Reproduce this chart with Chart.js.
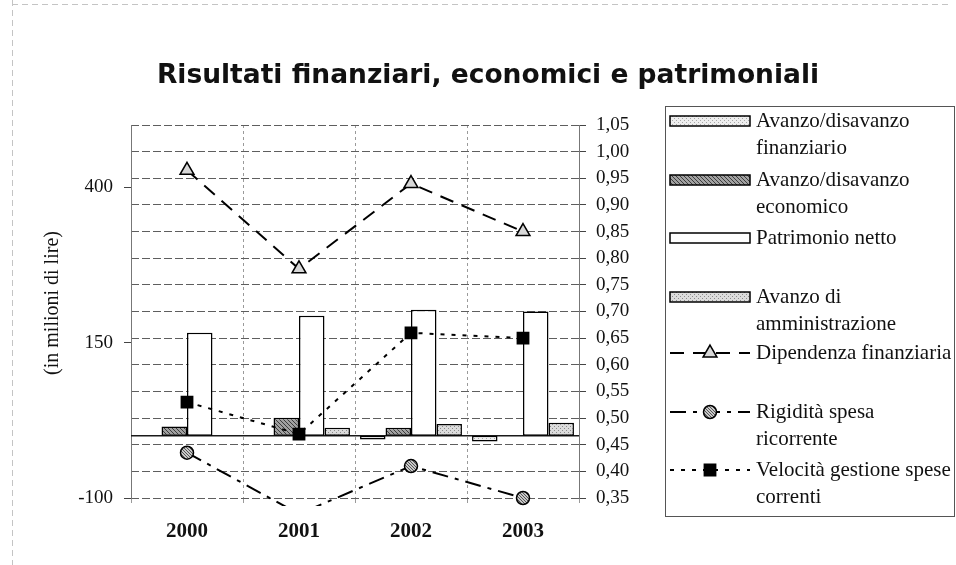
<!DOCTYPE html>
<html><head><meta charset="utf-8">
<script src="https://cdn.jsdelivr.net/npm/chart.js@4.4.1/dist/chart.umd.min.js"></script>
<style>html,body{margin:0;padding:0;background:#fff;}#wrap{position:relative;width:956px;height:565px;}</style>
</head><body><div id="wrap"><canvas id="c" width="956" height="565"></canvas></div>
<script>
// ---- data ----
const categories = ['2000', '2001', '2002', '2003'];
const avanzoFinanziario = [0, 0, -6, -9];
const avanzoEconomico = [15, 29, 13, 0];
const patrimonioNetto = [166, 193, 203, 200];
const avanzoAmministrazione = [0, 13, 19, 21];
const dipendenzaFinanziaria = [0.965, 0.78, 0.94, 0.85];
const rigiditaSpesa = [0.435, 0.32, 0.41, 0.35];
const velocitaGestione = [0.53, 0.47, 0.66, 0.65];
const leftTicks = [-100, 150, 400];
const rightTicks = [0.35, 0.40, 0.45, 0.50, 0.55, 0.60, 0.65, 0.70, 0.75, 0.80, 0.85, 0.90, 0.95, 1.00, 1.05];
const seriesNames = ['Avanzo/disavanzo\nfinanziario', 'Avanzo/disavanzo\neconomico', 'Patrimonio netto',
  'Avanzo di\namministrazione', 'Dipendenza finanziaria', 'Rigidità spesa\nricorrente', 'Velocità gestione spese\ncorrenti'];
const chartTitle = 'Risultati finanziari, economici e patrimoniali';
const yTitle = '(in milioni di lire)';

// ---- patterns ----
function makePattern(w, h, draw) {
  const c = document.createElement('canvas'); c.width = w; c.height = h;
  const g = c.getContext('2d'); draw(g); return g.createPattern(c, 'repeat');
}
const patFin = makePattern(4, 4, g => { g.fillStyle = '#eeeeee'; g.fillRect(0,0,4,4); g.fillStyle = '#a8a8a8'; g.fillRect(0,0,1,1); g.fillRect(2,2,1,1); });
const patEco = makePattern(4, 4, g => { g.fillStyle = '#a0a0a0'; g.fillRect(0,0,4,4); g.fillStyle = '#3c3c3c'; for (let i=0;i<4;i++) g.fillRect(i,i,1,1); });
const patAmm = makePattern(4, 4, g => { g.fillStyle = '#dcdcdc'; g.fillRect(0,0,4,4); g.fillStyle = '#8c8c8c'; g.fillRect(0,0,1,1); g.fillRect(2,2,1,1); });
const patCircle = makePattern(3, 3, g => { g.fillStyle = '#c8c8c8'; g.fillRect(0,0,3,3); g.fillStyle = '#555'; for (let i=0;i<3;i++) g.fillRect(i,i,1,1); });

const serif = 'Liberation Serif';
const lbl = s => s.replace('\n', ' ');

const barBase = { type: 'bar', yAxisID: 'y', borderColor: '#000', borderWidth: 1.5, borderSkipped: false,
  categoryPercentage: 0.91, barPercentage: 1.0, order: 2 };
const lineBase = { type: 'line', yAxisID: 'y2', borderColor: '#000', borderWidth: 2, fill: false, tension: 0,
  pointBorderColor: '#000', pointBorderWidth: 1.5, order: 1, clip: { left: 10, top: 10, right: 10, bottom: 8 } };

const datasets = [
  Object.assign({}, barBase, { label: lbl(seriesNames[0]), data: avanzoFinanziario, backgroundColor: patFin }),
  Object.assign({}, barBase, { label: lbl(seriesNames[1]), data: avanzoEconomico, backgroundColor: patEco }),
  Object.assign({}, barBase, { label: lbl(seriesNames[2]), data: patrimonioNetto, backgroundColor: '#ffffff' }),
  Object.assign({}, barBase, { label: lbl(seriesNames[3]), data: avanzoAmministrazione, backgroundColor: patAmm }),
  Object.assign({}, lineBase, { label: lbl(seriesNames[4]), data: dipendenzaFinanziaria, borderDash: [14, 9],
    pointStyle: 'triangle', pointRadius: 8, pointBackgroundColor: '#d8d8d8' }),
  Object.assign({}, lineBase, { label: lbl(seriesNames[5]), data: rigiditaSpesa, borderDash: [16, 7, 4, 7],
    pointStyle: 'circle', pointRadius: 6.5, pointBackgroundColor: patCircle }),
  Object.assign({}, lineBase, { label: lbl(seriesNames[6]), data: velocitaGestione, borderDash: [4, 7],
    pointStyle: 'rect', pointRadius: 8, pointBackgroundColor: '#000' })
];

// ---- custom drawing plugin: title, y title, zero line, legend ----
const decorations = {
  id: 'decorations',
  beforeDatasetsDraw(chart) {
    const { ctx, chartArea: a } = chart;
    const y0 = chart.scales.y.getPixelForValue(0);
    ctx.save();
    ctx.strokeStyle = '#1a1a1a'; ctx.lineWidth = 1.5;
    ctx.beginPath(); ctx.moveTo(a.left, y0); ctx.lineTo(a.right, y0); ctx.stroke();
    ctx.restore();
  },
  afterDraw(chart) {
    const { ctx } = chart;
    ctx.save();
    // page border
    ctx.strokeStyle = '#c4c4c4'; ctx.lineWidth = 1; ctx.setLineDash([6, 4]);
    ctx.beginPath(); ctx.moveTo(12.5, 0); ctx.lineTo(12.5, 565); ctx.stroke();
    ctx.beginPath(); ctx.moveTo(12, 4.5); ctx.lineTo(950, 4.5); ctx.stroke();
    ctx.setLineDash([]);
    // title
    ctx.fillStyle = '#111';
    ctx.font = 'bold 26.5px "DejaVu Sans"';
    ctx.textAlign = 'center'; ctx.textBaseline = 'middle';
    ctx.fillText(chartTitle, 488, 76);
    // y title
    ctx.save();
    ctx.translate(53, 303); ctx.rotate(-Math.PI / 2);
    ctx.font = '20px "' + serif + '"';
    ctx.fillText(yTitle, 0, 0);
    ctx.restore();
    // legend
    const bx = 665, by = 106, bw = 289, bh = 410;
    ctx.strokeStyle = '#555'; ctx.lineWidth = 1;
    ctx.strokeRect(bx + 0.5, by + 0.5, bw, bh);
    const itemY = [121, 180, 238, 297, 353, 412, 470];
    const lineH = 27;
    ctx.font = '21px "' + serif + '"';
    ctx.textAlign = 'left'; ctx.textBaseline = 'middle';
    chart.data.datasets.forEach((ds, i) => {
      const yc = itemY[i];
      if (ds.type === 'bar') {
        ctx.fillStyle = ds.backgroundColor;
        ctx.fillRect(670, yc - 5, 80, 10);
        ctx.strokeStyle = '#000'; ctx.lineWidth = 1.5;
        ctx.strokeRect(670, yc - 5, 80, 10);
      } else {
        ctx.strokeStyle = '#000'; ctx.lineWidth = 2;
        ctx.setLineDash(ds.borderDash || []);
        ctx.beginPath(); ctx.moveTo(670, yc); ctx.lineTo(750, yc); ctx.stroke();
        ctx.setLineDash([]);
        ctx.fillStyle = ds.pointBackgroundColor; ctx.strokeStyle = '#000'; ctx.lineWidth = 1.5;
        Chart.helpers.drawPoint(ctx, { pointStyle: ds.pointStyle, radius: ds.pointRadius, borderWidth: 1.5, rotation: 0 }, 710, yc);
      }
      ctx.fillStyle = '#111';
      seriesNames[i].split('\n').forEach((t, k) => ctx.fillText(t, 756, yc + k * lineH));
    });
    ctx.restore();
  }
};

new Chart(document.getElementById('c'), {
  data: { labels: categories, datasets },
  options: {
    responsive: false, animation: false,
    layout: { padding: { top: 125, right: 291, left: 0, bottom: 0 } },
    plugins: { legend: { display: false }, title: { display: false }, tooltip: { enabled: false } },
    scales: {
      x: {
        offset: true,
        grid: { display: true, drawOnChartArea: true, drawTicks: true, tickLength: 5, color: '#9a9a9a', lineWidth: 1, offset: true },
        border: { display: false, dash: [3, 3] },
        ticks: { font: { family: serif, size: 21, weight: 'bold' }, color: '#111', padding: 16 },
        afterFit: s => { s.height = 67; }
      },
      y: {
        position: 'left', min: -100, max: 500,
        afterBuildTicks: s => { s.ticks = leftTicks.map(v => ({ value: v })); },
        grid: { drawOnChartArea: false, drawTicks: true, tickLength: 7, color: '#444' },
        border: { display: true, color: '#777', width: 1 },
        ticks: { font: { family: serif, size: 19 }, color: '#111', padding: 11, callback: v => String(v) },
        afterFit: s => { s.width = 131; }
      },
      y2: {
        position: 'right', min: 0.35, max: 1.05,
        afterBuildTicks: s => { s.ticks = rightTicks.map(v => ({ value: v })); },
        grid: { drawOnChartArea: true, color: '#5e5e5e', lineWidth: 1, tickLength: 7, tickColor: '#444' },
        border: { display: true, color: '#777', width: 1, dash: [8, 3] },
        ticks: { font: { family: serif, size: 19 }, color: '#111', padding: 10, callback: v => Number(v).toFixed(2).replace('.', ',') },
        afterFit: s => { s.width = 86; }
      }
    }
  },
  plugins: [decorations]
});
</script>
</body></html>
